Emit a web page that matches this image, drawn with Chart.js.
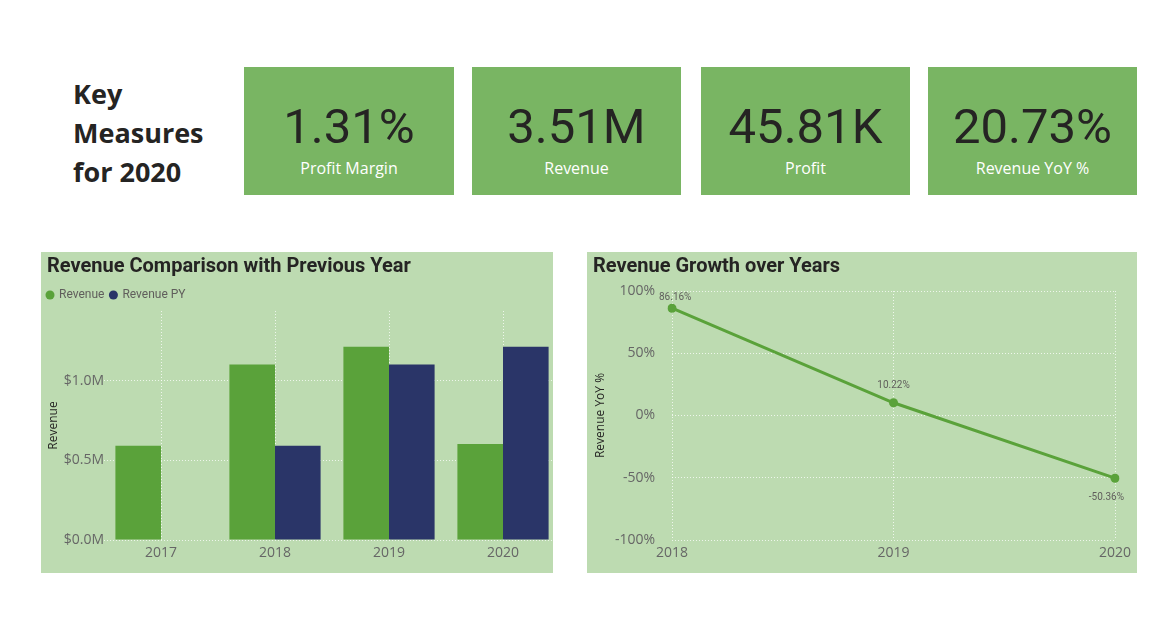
<!DOCTYPE html>
<html>
<head>
<meta charset="utf-8">
<script src="https://cdn.jsdelivr.net/npm/chart.js@4.4.1/dist/chart.umd.min.js"></script>
<style>
  body { margin: 0; background: #fff; width: 1173px; height: 633px; position: relative; overflow: hidden; font-family: "Open Sans", sans-serif; }
  .heading { position: absolute; left: 73px; top: 74px; font-size: 27px; line-height: 39px; font-weight: 700; color: #252423; }
  .card { position: absolute; top: 67px; height: 128px; background: #79b563; }
  .card .num { position: absolute; left: 0; right: 0; top: 35px; text-align: center; font-family: Roboto, sans-serif; font-size: 49px; line-height: 49px; color: #252423; }
  .card .lbl { position: absolute; left: 0; right: 0; top: 93px; text-align: center; font-size: 16px; line-height: 16px; color: #fff; }
  .panel { position: absolute; top: 252px; height: 321px; background: #bddbb1; overflow: hidden; }
  .panel .title { position: absolute; left: 6px; top: 3px; font-family: Roboto, sans-serif; font-weight: 700; font-size: 20px; line-height: 20px; color: #252423; white-space: nowrap; z-index: 2; }
  .wrap { position: absolute; left: 0; top: 0; height: 321px; }
</style>
</head>
<body>
<div class="heading">Key<br>Measures<br>for 2020</div>
<div id="cards"></div>

<div class="panel" style="left:41px;width:512px;">
  <div class="title">Revenue Comparison with Previous Year</div>
  <div class="wrap" style="width:530px;"><canvas id="barChart"></canvas></div>
</div>
<div class="panel" style="left:587px;width:550px;">
  <div class="title">Revenue Growth over Years</div>
  <div class="wrap" style="width:550px;"><canvas id="lineChart"></canvas></div>
</div>

<script>
// KPI tiles
const kpiValues = ['1.31%', '3.51M', '45.81K', '20.73%'];
const kpiLabels = ['Profit Margin', 'Revenue', 'Profit', 'Revenue YoY %'];

// revenue by year, in millions
const years = ['2017', '2018', '2019', '2020'];
const revenue = [0.591, 1.100, 1.2125, 0.602];
const revenuePY = [null, 0.591, 1.100, 1.2125];
const revenueTicks = [0, 0.5, 1.0];

// YoY growth, percent
const growthYears = ['2018', '2019', '2020'];
const growthPct = [86.16, 10.22, -50.36];
const growthTicks = [-100, -50, 0, 50, 100];

const GREEN = '#5aa23a';
const NAVY = '#2a3568';
const GRID = 'rgba(255,255,255,0.75)';
const TICK_FONT = { family: 'Open Sans', size: 14 };

function buildCards() {
  const lefts = [244, 472, 701, 928];
  const widths = [210, 209, 209, 209];
  const box = document.getElementById('cards');
  kpiValues.forEach((v, i) => {
    const c = document.createElement('div');
    c.className = 'card';
    c.style.left = lefts[i] + 'px';
    c.style.width = widths[i] + 'px';
    c.innerHTML = `<div class="num">${v}</div><div class="lbl">${kpiLabels[i]}</div>`;
    box.appendChild(c);
  });
}

// labels above points, last one below, kept inside the plot
const pointLabels = {
  id: 'pointLabels',
  afterDatasetsDraw(chart) {
    const { ctx, chartArea } = chart;
    const meta = chart.getDatasetMeta(0);
    ctx.save();
    ctx.font = '10px Roboto';
    ctx.fillStyle = '#605e5c';
    ctx.textAlign = 'center';
    ctx.textBaseline = 'middle';
    meta.data.forEach((pt, i) => {
      const text = growthPct[i].toFixed(2) + '%';
      const w = ctx.measureText(text).width;
      const last = i === meta.data.length - 1;
      let y = last ? pt.y + 19 : pt.y - 17;
      y = Math.max(y, chartArea.top + 6);
      const x = Math.min(Math.max(pt.x, chartArea.left - 13 + w / 2), chartArea.right + 9 - w / 2);
      ctx.fillText(text, x, y);
    });
    ctx.restore();
  }
};

function renderBar() {
  new Chart(document.getElementById('barChart'), {
    type: 'bar',
    data: {
      labels: years,
      datasets: [
        { label: 'Revenue', data: revenue, backgroundColor: GREEN },
        { label: 'Revenue PY', data: revenuePY, backgroundColor: NAVY }
      ]
    },
    options: {
      responsive: true,
      maintainAspectRatio: false,
      animation: false,
      datasets: { bar: { barPercentage: 1, categoryPercentage: 0.8 } },
      layout: { padding: { left: 0, right: 11, top: 31, bottom: 0 } },
      plugins: {
        tooltip: { enabled: false },
        legend: {
          position: 'top',
          align: 'start',
          labels: {
            usePointStyle: true, pointStyle: 'circle', boxWidth: 6, boxHeight: 6.4, padding: 6,
            color: '#605e5c', font: { family: 'Roboto', size: 12 }
          }
        }
      },
      scales: {
        x: {
          grid: { color: GRID, offset: false, drawTicks: false },
          border: { display: false, dash: [1, 2] },
          ticks: { color: '#666', font: TICK_FONT, padding: 5, maxRotation: 0 },
          afterFit: s => { s.height = 33; }
        },
        y: {
          min: 0, max: 1.436,
          grid: { color: GRID, drawTicks: false },
          border: { display: false, dash: [1, 2] },
          afterBuildTicks: s => { s.ticks = revenueTicks.map(v => ({ value: v })); },
          ticks: { color: '#666', font: TICK_FONT, padding: 0, callback: v => '$' + v.toFixed(1) + 'M' },
          title: { display: true, text: 'Revenue', color: '#252423', font: { family: 'Open Sans', size: 12 }, padding: { top: 5, bottom: 0 } },
          afterFit: s => { s.width = 63; }
        }
      }
    }
  });
}

function renderLine() {
  new Chart(document.getElementById('lineChart'), {
    type: 'line',
    data: {
      labels: growthYears,
      datasets: [{
        label: 'Revenue YoY %',
        data: growthPct,
        borderColor: GREEN,
        backgroundColor: GREEN,
        borderWidth: 3,
        tension: 0,
        pointRadius: 4.5,
        pointBorderWidth: 0
      }]
    },
    plugins: [pointLabels],
    options: {
      responsive: true,
      maintainAspectRatio: false,
      animation: false,
      layout: { padding: { left: 0, right: 22, top: 39, bottom: 0 } },
      plugins: { legend: { display: false }, tooltip: { enabled: false } },
      scales: {
        x: {
          offset: false,
          grid: { color: GRID, drawTicks: false },
          border: { display: false, dash: [1, 2] },
          ticks: { color: '#666', font: TICK_FONT, padding: 5, maxRotation: 0 },
          afterFit: s => { s.height = 33; }
        },
        y: {
          min: -100, max: 100,
          grid: { color: GRID, drawTicks: false },
          border: { display: false, dash: [1, 2] },
          afterBuildTicks: s => { s.ticks = growthTicks.map(v => ({ value: v })); },
          ticks: { color: '#666', font: TICK_FONT, padding: 17, callback: v => v + '%' },
          title: { display: true, text: 'Revenue YoY %', color: '#252423', font: { family: 'Open Sans', size: 12 }, padding: { top: 6, bottom: 0 } },
          afterFit: s => { s.width = 85; }
        }
      }
    }
  });
}

function init() {
  buildCards();
  renderBar();
  renderLine();
}
document.addEventListener('DOMContentLoaded', init);
</script>
</body>
</html>
